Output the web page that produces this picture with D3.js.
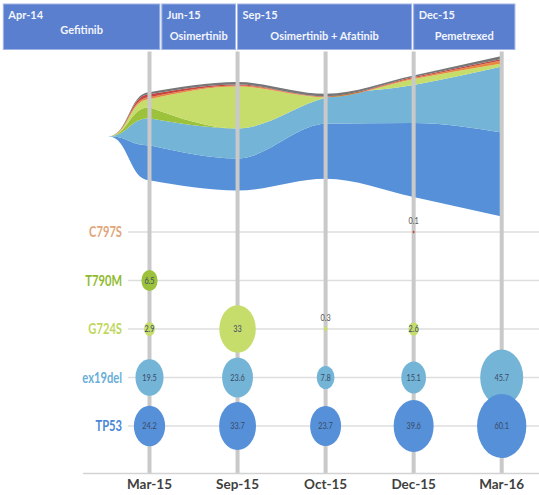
<!DOCTYPE html>
<html>
<head>
<meta charset="utf-8">
<script src="https://cdn.jsdelivr.net/npm/d3@7"></script>
<style>
  html, body { margin: 0; padding: 0; background: #fff; }
  svg { display: block; }
  text { font-family: Lato, "Open Sans", sans-serif; }
</style>
</head>
<body>
<div id="chart"></div>
<script>
// Sampling dates (bubble columns)
const dates = ["Mar-15", "Sep-15", "Oct-15", "Dec-15", "Mar-16"];

// Mutations, top row to bottom row
const mutations = ["C797S", "T790M", "G724S", "ex19del", "TP53"];

// Allele fraction (%) per mutation and date; null = not detected
const vafC797S   = [null, null, null, 0.1, null];
const vafT790M   = [6.5, null, null, null, null];
const vafG724S   = [2.9, 33, 0.3, 2.6, null];
const vafEx19del = [19.5, 23.6, 7.8, 15.1, 45.7];
const vafTP53    = [24.2, 33.7, 23.7, 39.6, 60.1];

// Treatment lines
const regimens     = ["Gefitinib", "Osimertinib", "Osimertinib + Afatinib", "Pemetrexed"];
const regimenStart = ["Apr-14", "Jun-15", "Sep-15", "Dec-15"];

// Clonal evolution stream: relative clone size at baseline + each date
const streamTimes   = ["Baseline", ...dates];
const streamTP53    = [0, 35, 32, 55, 74, 84];
const streamEx19del = [0, 27, 30, 26, 38, 66];
const streamT790M   = [0, 11, 0, 0, 0, 0];
const streamG724S   = [0, 8, 42, 0.5, 6, 3];
const streamMinorA  = [0, 2, 1, 0.5, 1, 3];
const streamC797S   = [0, 3, 1, 0.5, 1, 1.5];
const streamMinorB  = [0, 2, 2.5, 2.5, 1.5, 3];

const W = 539, H = 495;
const S = 0.77; // horizontal compression of the chart body

const colors = {
  TP53: "#5590d8",
  ex19del: "#74b4d7",
  T790M: "#9cc23c",
  G724S: "#c6dd6c",
  C797S: "#c8453f",
  MinorA: "#e8873e",
  MinorB: "#767676"
};
const labelColors = {
  C797S: "#dfa679",
  T790M: "#8fba2e",
  G724S: "#bfd75e",
  ex19del: "#6aaed8",
  TP53: "#4a86d6"
};
const vafByMutation = {
  C797S: vafC797S, T790M: vafT790M, G724S: vafG724S, ex19del: vafEx19del, TP53: vafTP53
};

const svg = d3.select("#chart").append("svg")
  .attr("width", W).attr("height", H);

// ---- scales (body coordinates are pre-compression) ----
const x = d3.scalePoint().domain(dates).range([149.5 / S, 501.7 / S]);
const step = x.step();
const yRow = d3.scalePoint().domain(mutations).range([232, 426]);
const r = d3.scaleSqrt().domain([0, 60.1]).range([0, 32]);

// month -> horizontal position along the timeline header
const headerPos = {
  "Apr-14": x("Mar-15") - 1.66 * step,
  "Jun-15": x("Mar-15") + 0.14 * step,
  "Sep-15": x("Sep-15"),
  "Dec-15": x("Dec-15")
};
const headerEnd = x("Mar-16") + 0.15 * step;

// ---- timeline header ----
const header = svg.append("g");
regimens.forEach((name, i) => {
  const x0 = headerPos[regimenStart[i]] * S;
  const x1 = (i < regimens.length - 1 ? headerPos[regimenStart[i + 1]] * S - 2 : headerEnd * S);
  const g = header.append("g");
  g.append("rect")
    .attr("x", x0).attr("y", 4)
    .attr("width", x1 - x0).attr("height", 45.5)
    .attr("fill", "#5b7fcf")
    .attr("stroke", "#9fb4e6").attr("stroke-width", 1);
  g.append("text")
    .attr("x", x0 + 5).attr("y", 19)
    .attr("fill", "#f2f5fc").attr("font-size", 11).attr("font-weight", 700)
    .text(regimenStart[i]);
  g.append("text")
    .attr("x", (x0 + x1) / 2).attr("y", i === 0 ? 34 : 40)
    .attr("text-anchor", "middle")
    .attr("fill", "#f2f5fc").attr("font-size", 11).attr("font-weight", 700)
    .text(name);
});

const body = svg.append("g").attr("transform", `scale(${S},1)`);

// ---- horizontal row guides ----
body.append("g").selectAll("line").data(mutations).join("line")
  .attr("x1", 128 / S).attr("x2", W / S)
  .attr("y1", d => yRow(d)).attr("y2", d => yRow(d))
  .attr("stroke", "#dedede").attr("stroke-width", 1.5);

// ---- clonal stream ----
const streamKeys = ["TP53", "ex19del", "T790M", "G724S", "MinorA", "C797S", "MinorB"];
const streamSeries = {
  TP53: streamTP53, ex19del: streamEx19del, T790M: streamT790M, G724S: streamG724S,
  MinorA: streamMinorA, C797S: streamC797S, MinorB: streamMinorB
};
const streamRows = streamTimes.map((t, i) => {
  const row = { t };
  streamKeys.forEach(k => row[k] = streamSeries[k][i]);
  return row;
});
const stack = d3.stack().keys(streamKeys)
  .offset(d3.stackOffsetSilhouette).order(d3.stackOrderNone);
const layers = stack(streamRows);

const streamX = i => (i === 0 ? x(dates[0]) - 0.47 * step : x(dates[i - 1]));
const yStream = d3.scaleLinear().domain([-100, 100]).range([236.3, 36.3]);

// emergence from baseline uses an S-shaped bump; later intervals a monotone spline
const areaEmerge = d3.area()
  .x(d => streamX(d.i))
  .y0(d => yStream(d.v[0]))
  .y1(d => yStream(d.v[1]))
  .curve(d3.curveBumpX);
const areaEvolve = d3.area()
  .x(d => streamX(d.i))
  .y0(d => yStream(d.v[0]))
  .y1(d => yStream(d.v[1]))
  .curve(d3.curveMonotoneX);

const streamG = body.append("g");
layers.forEach(layer => {
  const pts = layer.map((v, i) => ({ v, i }));
  streamG.append("path")
    .attr("d", areaEmerge(pts.slice(0, 2)))
    .attr("fill", colors[layer.key]);
  streamG.append("path")
    .attr("d", areaEvolve(pts.slice(1)))
    .attr("fill", colors[layer.key]);
});

// ---- date columns ----
body.append("g").selectAll("line").data(dates).join("line")
  .attr("x1", d => x(d)).attr("x2", d => x(d))
  .attr("y1", 51.5).attr("y2", 473.5)
  .attr("stroke", "#c9c9c9").attr("stroke-width", 4 / S);

// axis baseline
body.append("line")
  .attr("x1", 83 / S).attr("x2", W / S)
  .attr("y1", 473.5).attr("y2", 473.5)
  .attr("stroke", "#d3d3d3").attr("stroke-width", 1.5);

// ---- bubbles ----
const bubbles = [];
mutations.forEach(m => {
  vafByMutation[m].forEach((v, i) => {
    if (v != null) bubbles.push({ m, date: dates[i], v });
  });
});

body.append("g").selectAll("ellipse").data(bubbles).join("ellipse")
  .attr("cx", d => x(d.date))
  .attr("cy", d => yRow(d.m))
  .attr("rx", d => r(d.v))
  .attr("ry", d => r(d.v))
  .attr("fill", d => colors[d.m]);

body.append("g").selectAll("text").data(bubbles).join("text")
  .attr("x", d => x(d.date))
  .attr("y", d => d.v < 1 ? yRow(d.m) - 11 : yRow(d.m))
  .attr("dy", "0.35em")
  .attr("text-anchor", "middle")
  .attr("font-size", 9.5)
  .attr("fill", d => d.v < 1 ? "#555" : "#3a4a66")
  .text(d => d.v);

// ---- row labels ----
body.append("g").selectAll("text").data(mutations).join("text")
  .attr("x", 122 / S)
  .attr("y", d => yRow(d))
  .attr("dy", "0.35em")
  .attr("text-anchor", "end")
  .attr("font-size", 14.5)
  .attr("font-weight", 700)
  .attr("fill", d => labelColors[d])
  .text(d => d);

// ---- date labels ----
svg.append("g").selectAll("text").data(dates).join("text")
  .attr("x", d => x(d) * S)
  .attr("y", 489)
  .attr("text-anchor", "middle")
  .attr("font-size", 13.5)
  .attr("font-weight", 700)
  .attr("fill", "#404040")
  .text(d => d);
</script>
</body>
</html>
